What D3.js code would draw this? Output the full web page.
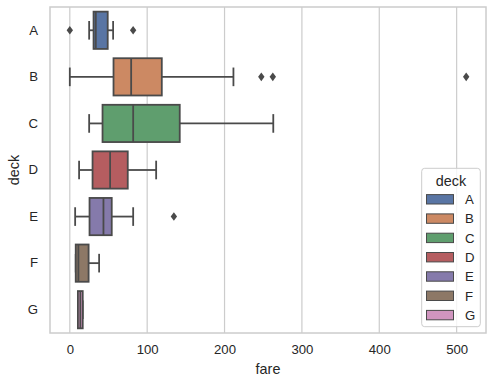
<!DOCTYPE html>
<html><head><meta charset="utf-8">
<script src="https://cdn.jsdelivr.net/npm/d3@7"></script>
<style>body{margin:0;background:#fff}svg{display:block;font-family:"Liberation Sans",Arial,sans-serif}</style>
</head><body><div id="chart"></div>
<script>
const decks = ["A","B","C","D","E","F","G"];
const colors = ["#5975a4","#cc8963","#5f9e6e","#b55d60","#857aab","#8d7866","#d095bf"];
const whiskerLow = [25.0, 0, 25.0, 12.0, 6.9, 7.65, 10.46];
const q1 = [30.7, 56.5, 42.3, 29.4, 25.5, 7.65, 10.46];
const median = [33.6, 79.3, 81.9, 52.1, 43.5, 11.1, 13.58];
const q3 = [49.0, 118.9, 142.1, 74.9, 54.2, 24.3, 16.7];
const whiskerHigh = [56.0, 211.5, 263.0, 111.6, 81.9, 37.9, 16.7];
const outliers = [[0, 81.86], [247.52, 262.38, 512.33], [], [], [134.5], [], []];
const xTicks = [0, 100, 200, 300, 400, 500];

const W = 495, H = 385;
const m = {l: 50, r: 9, t: 7, b: 52};
const gray = "#4a4a4a";
const svg = d3.select("#chart").append("svg").attr("width", W).attr("height", H);

const x = d3.scaleLinear().domain([-25.6, 537.95]).range([m.l, W - m.r]);
const y = d3.scaleBand().domain(decks).range([m.t, H - m.b]);

// grid
svg.append("g").selectAll("line").data(xTicks).join("line")
  .attr("x1", d => x(d)).attr("x2", d => x(d)).attr("y1", m.t).attr("y2", H - m.b)
  .attr("stroke", "#cccccc").attr("stroke-width", 1.2);

// x axis
const xAxis = svg.append("g").attr("transform", `translate(0,${H - m.b})`)
  .call(d3.axisBottom(x).tickValues(xTicks).tickSize(0).tickPadding(12));
xAxis.select(".domain").remove();
xAxis.selectAll("text").attr("font-size", 13.2).attr("fill", "#262626")
  .attr("font-family", "Liberation Sans, Arial, sans-serif");

// y axis
const yAxis = svg.append("g").attr("transform", `translate(${m.l},0)`)
  .call(d3.axisLeft(y).tickSize(0).tickPadding(12));
yAxis.select(".domain").remove();
yAxis.selectAll("text").attr("font-size", 13.2).attr("fill", "#262626")
  .attr("font-family", "Liberation Sans, Arial, sans-serif");

// axis labels
svg.append("text").attr("x", (m.l + W - m.r) / 2).attr("y", 374).attr("text-anchor", "middle")
  .attr("font-size", 14.4).attr("fill", "#262626").text("fare");
svg.append("text").attr("transform", `translate(19,${(m.t + H - m.b) / 2}) rotate(-90)`)
  .attr("text-anchor", "middle").attr("font-size", 14.4).attr("fill", "#262626").text("deck");

// boxes
const bw = y.bandwidth() * 0.8;
const lw = 1.8;
const g = svg.append("g");
decks.forEach((d, i) => {
  const cy = y(d) + y.bandwidth() / 2;
  const gg = g.append("g");
  // whiskers
  gg.append("line").attr("x1", x(whiskerLow[i])).attr("x2", x(q1[i])).attr("y1", cy).attr("y2", cy)
    .attr("stroke", gray).attr("stroke-width", lw);
  gg.append("line").attr("x1", x(q3[i])).attr("x2", x(whiskerHigh[i])).attr("y1", cy).attr("y2", cy)
    .attr("stroke", gray).attr("stroke-width", lw);
  // caps
  [whiskerLow[i], whiskerHigh[i]].forEach(v => {
    gg.append("line").attr("x1", x(v)).attr("x2", x(v)).attr("y1", cy - bw / 4).attr("y2", cy + bw / 4)
      .attr("stroke", gray).attr("stroke-width", lw);
  });
  // box
  gg.append("rect").attr("x", x(q1[i])).attr("y", cy - bw / 2)
    .attr("width", x(q3[i]) - x(q1[i])).attr("height", bw)
    .attr("fill", colors[i]).attr("stroke", gray).attr("stroke-width", lw);
  // median
  gg.append("line").attr("x1", x(median[i])).attr("x2", x(median[i]))
    .attr("y1", cy - bw / 2).attr("y2", cy + bw / 2).attr("stroke", gray).attr("stroke-width", lw);
  // outliers
  gg.selectAll("path.fl").data(outliers[i]).join("path").attr("class", "fl")
    .attr("d", "M0,-4.3L3.2,0L0,4.3L-3.2,0Z")
    .attr("transform", v => `translate(${x(v)},${cy})`).attr("fill", gray);
});

// frame
svg.append("rect").attr("x", m.l).attr("y", m.t).attr("width", W - m.r - m.l).attr("height", H - m.b - m.t)
  .attr("fill", "none").attr("stroke", "#cccccc").attr("stroke-width", 1.5);

// legend
const lg = svg.append("g");
lg.append("rect").attr("x", 421.7).attr("y", 168.3).attr("width", 58.6).attr("height", 158.4).attr("rx", 3)
  .attr("fill", "#fff").attr("fill-opacity", 0.8).attr("stroke", "#cccccc").attr("stroke-width", 1);
lg.append("text").attr("x", 451).attr("y", 186).attr("text-anchor", "middle").attr("font-size", 14.4)
  .attr("fill", "#262626").text("deck");
decks.forEach((d, i) => {
  const cy = 199.3 + i * 19.3;
  lg.append("rect").attr("x", 426.5).attr("y", cy - 4.7).attr("width", 27).attr("height", 9.4)
    .attr("fill", colors[i]).attr("stroke", gray).attr("stroke-width", 1);
  lg.append("text").attr("x", 465).attr("y", cy + 4.7).attr("font-size", 13.2).attr("fill", "#262626").text(d);
});
</script></body></html>
